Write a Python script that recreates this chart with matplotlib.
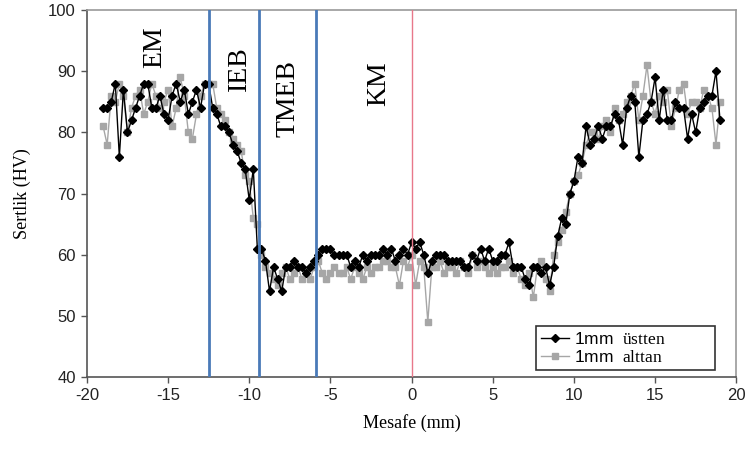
import numpy as np
import matplotlib
matplotlib.use('Agg')
import matplotlib.pyplot as plt

plt.rcParams['axes.unicode_minus'] = False
plt.rcParams['mathtext.fontset'] = 'custom'
plt.rcParams['mathtext.rm'] = 'Liberation Serif'

# measurement positions (mm), 0.25 mm step
mesafe = np.arange(-19, 19.001, 0.25)

# 1mm ustten (black)
ustten = [
    84, 84, 85, 88, 76, 87, 80, 82, 84, 86, 88, 88, 84, 84, 86, 83, 82, 86, 88, 85, 87, 83, 85, 87, 84, 88, 88, 84,
    83, 81, 81, 80, 78, 77, 75, 74, 69, 74,
    61, 61, 59, 54, 58, 56, 54, 58, 58, 59, 58, 58, 57, 58, 59, 60,
    61, 61, 61, 60, 60, 60, 60, 58, 59, 58, 60, 59, 60, 60, 60, 61, 60, 61, 59, 60, 61, 60, 62,
    61, 62, 60, 57, 59, 60, 60, 60, 59, 59, 59, 59, 58, 58, 60, 59, 61, 59, 61, 59, 59, 60, 60, 62, 58, 58, 58, 56, 55, 58, 58, 57, 58, 55,
    58, 63, 66, 65, 70, 72, 76, 75, 81, 78,
    79, 81, 79, 81, 81, 83, 82, 78, 84, 86, 85, 76, 82, 83, 85, 89, 82, 87, 82, 82, 85, 84, 84, 79, 83, 80, 84, 85, 86, 86, 90, 82,
]

# 1mm alttan (gray)
alttan = [
    81, 78, 86, 85, 88, 86, 80, 84, 86, 87, 83, 85, 88, 86, 84, 85, 87, 81, 84, 89, 86, 80, 79, 83, 86, 88, 88, 88,
    84, 83, 82, 80, 79, 78, 77, 73, 72, 66,
    65, 60, 58, 57, 56, 55, 57, 58, 56, 57, 58, 56, 57, 56, 58, 59,
    57, 56, 57, 58, 57, 57, 58, 56, 58, 57, 56, 58, 57, 58, 58, 59, 59, 58, 58, 55, 59, 58, 60,
    55, 59, 58, 49, 58, 58, 59, 57, 58, 58, 57, 59, 58, 57, 60, 58, 59, 58, 57, 58, 57, 58, 58, 59, 57, 58, 56, 55, 57, 53, 58, 59, 56, 54,
    60, 62, 64, 67, 70, 72, 73, 75, 78, 80,
    80, 79, 81, 82, 80, 84, 82, 83, 85, 86, 88, 82, 86, 91, 85, 83, 86, 85, 87, 81, 84, 87, 88, 83, 85, 85, 84, 87, 86, 84, 78, 85,
]

bolge_sinir = [-12.45, -9.4, -5.9]
merkez = 0
bolge_adlari = ['EM', 'IEB', 'TMEB', 'KM']
bolge_x = [-15.8, -10.6, -7.6, -2.0]
bolge_y = [94, 90.5, 85.5, 88]

fig = plt.figure(figsize=(7.49, 4.63), dpi=100)
ax = fig.add_axes([0.116, 0.186, 0.867, 0.792])

ax.plot(mesafe, alttan, color='#a6a6a6', lw=1, marker='s', ms=3.8,
        label=r'1mm  $\mathrm{alttan}$          ', zorder=2)
ax.plot(mesafe, ustten, color='black', lw=1, marker='D', ms=3.6,
        label=r'1mm  $\mathrm{üstten}$          ', zorder=3)

for xv in bolge_sinir:
    ax.axvline(xv, color='#4a7ab8', lw=2, zorder=4)
ax.axvline(merkez, color='#e8788a', lw=1, zorder=4)

for ad, xv, yv in zip(bolge_adlari, bolge_x, bolge_y):
    ax.text(xv, yv, ad, rotation=90, ha='center', va='center',
            fontsize=20, family='Liberation Serif')

ax.set_xlim(-20, 20)
ax.set_ylim(40, 100)
ax.set_xticks(range(-20, 21, 5))
ax.set_yticks(range(40, 101, 10))
ax.tick_params(direction='out', length=4, width=1, color='#555555',
               labelsize=12, labelcolor='#222222', pad=4)
for lab in ax.get_xticklabels() + ax.get_yticklabels():
    lab.set_family('Liberation Sans')

for s in ['left', 'bottom']:
    ax.spines[s].set_color('#555555')
    ax.spines[s].set_linewidth(1.2)
for s in ['top', 'right']:
    ax.spines[s].set_color('#999999')
    ax.spines[s].set_linewidth(1.2)

ax.set_xlabel('Mesafe (mm)', family='Liberation Serif', fontsize=13, labelpad=8)
ax.set_ylabel('Sertlik (HV)', family='Liberation Serif', fontsize=13, labelpad=12)

h, l = ax.get_legend_handles_labels()
leg = ax.legend(h[::-1], l[::-1], loc='lower right', bbox_to_anchor=(0.98, -0.005),
                frameon=True, fancybox=False, edgecolor='black',
                prop={'family': 'Liberation Sans', 'size': 12.5},
                handlelength=1.6, handletextpad=0.3, borderpad=0.3,
                labelspacing=0.1, borderaxespad=0.5)
leg.get_frame().set_linewidth(1.2)

fig.savefig('out.png', dpi=100)
